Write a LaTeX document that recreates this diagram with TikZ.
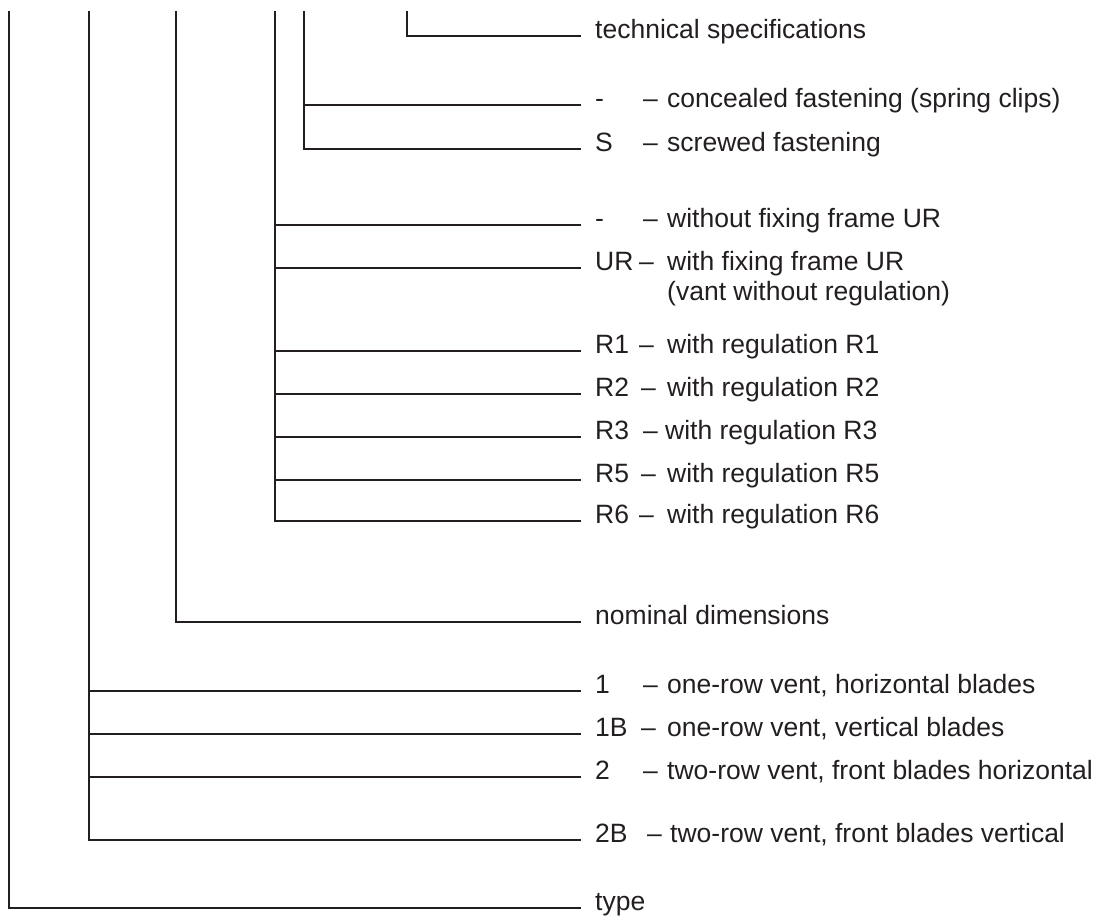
\documentclass[tikz,border=0pt]{standalone}
\usepackage{fontspec}
\setmainfont{Liberation Sans}
\definecolor{ink}{HTML}{231F20}
\begin{document}
\begin{tikzpicture}[x=1pt,y=-1pt,
  font=\fontsize{26.5}{30}\selectfont,
  txt/.style={anchor=mid west, inner sep=0pt, text=ink},
  link/.style={draw=ink, line width=1.9pt, shorten >=14pt}]
\useasboundingbox (0,0) rectangle (1099,922);
% tops of vertical lines
\coordinate (vA) at (9,11);
\coordinate (vB) at (89,11);
\coordinate (vC) at (176,11);
\coordinate (vD) at (275,11);
\coordinate (vE) at (304,11);
\coordinate (vF) at (407,11);
% technical specifications
\node[txt] (kTech) at (595,36) {technical specifications};
% fastening
\node[txt] (kCon) at (595,105) {-};
\node[txt] (dCon) at (643,105) {–};
\node[txt] (tCon) at (667,105) {concealed fastening (spring clips)};
\node[txt] (kS) at (595,149) {S};
\node[txt] (dS) at (643,149) {–};
\node[txt] (tS) at (667,149) {screwed fastening};
% fixing frame / regulation
\node[txt] (kNo) at (595,225) {-};
\node[txt] (dNo) at (643,225) {–};
\node[txt] (tNo) at (667,225) {without fixing frame UR};
\node[txt] (kUR) at (595,268) {UR};
\node[txt] (dUR) at (639,268) {–};
\node[txt] (tUR) at (667,268) {with fixing frame UR};
\node[txt] (tVant) at (667,298) {(vant without regulation)};
\node[txt] (kR1) at (595,351) {R1};
\node[txt] (dR1) at (639,351) {–};
\node[txt] (tR1) at (667,351) {with regulation R1};
\node[txt] (kR2) at (595,394) {R2};
\node[txt] (dR2) at (641,394) {–};
\node[txt] (tR2) at (667,394) {with regulation R2};
\node[txt] (kR3) at (595,437) {R3};
\node[txt] (dR3) at (643,437) {–};
\node[txt] (tR3) at (665,437) {with regulation R3};
\node[txt] (kR5) at (595,480) {R5};
\node[txt] (dR5) at (641,480) {–};
\node[txt] (tR5) at (667,480) {with regulation R5};
\node[txt] (kR6) at (595,521) {R6};
\node[txt] (dR6) at (639,521) {–};
\node[txt] (tR6) at (667,521) {with regulation R6};
% nominal dimensions
\node[txt] (kNom) at (595,622) {nominal dimensions};
% vent types
\node[txt] (k1) at (595,691) {1};
\node[txt] (d1) at (643,691) {–};
\node[txt] (t1) at (667,691) {one-row vent, horizontal blades};
\node[txt] (k1B) at (595,734) {1B};
\node[txt] (d1B) at (641,734) {–};
\node[txt] (t1B) at (667,734) {one-row vent, vertical blades};
\node[txt] (k2) at (595,777) {2};
\node[txt] (d2) at (643,777) {–};
\node[txt] (t2) at (667,777) {two-row vent, front blades horizontal};
\node[txt] (k2B) at (595,840) {2B};
\node[txt] (d2B) at (647,840) {–};
\node[txt] (t2B) at (670,840) {two-row vent, front blades vertical};
% type
\node[txt] (kType) at (595,908) {type};
% connectors
\draw[link] (vF) |- (kTech.mid west);
\draw[link] (vE |- kCon.mid west) -- (kCon.mid west);
\draw[link] (vE) |- (kS.mid west);
\draw[link] (vD |- kNo.mid west) -- (kNo.mid west);
\draw[link] (vD |- kUR.mid west) -- (kUR.mid west);
\draw[link] (vD |- kR1.mid west) -- (kR1.mid west);
\draw[link] (vD |- kR2.mid west) -- (kR2.mid west);
\draw[link] (vD |- kR3.mid west) -- (kR3.mid west);
\draw[link] (vD |- kR5.mid west) -- (kR5.mid west);
\draw[link] (vD) |- (kR6.mid west);
\draw[link] (vC) |- (kNom.mid west);
\draw[link] (vB |- k1.mid west) -- (k1.mid west);
\draw[link] (vB |- k1B.mid west) -- (k1B.mid west);
\draw[link] (vB |- k2.mid west) -- (k2.mid west);
\draw[link] (vB) |- (k2B.mid west);
\draw[link] (vA) |- (kType.mid west);
\end{tikzpicture}
\end{document}
